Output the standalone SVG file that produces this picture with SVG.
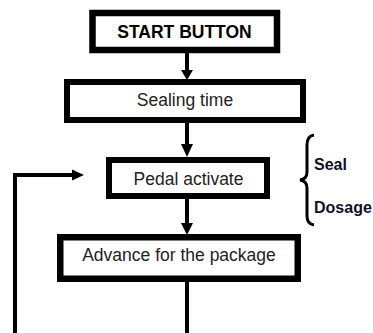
<svg xmlns="http://www.w3.org/2000/svg" width="373" height="333" viewBox="0 0 373 333">
<style>
.box{fill:#fff;stroke:#000;stroke-width:6.5}
.t{font-family:"Liberation Sans",Arial,sans-serif;font-size:17.5px;fill:#222;text-anchor:middle}
.b{font-weight:bold;fill:#000}
.c{stroke:#000;stroke-width:4;fill:none}
.h{fill:#000}
.lbl{font-family:"Liberation Sans",Arial,sans-serif;font-size:16px;font-weight:bold;fill:#10102a}
</style>
<rect width="373" height="333" fill="#fff"/>
<g id="connectors">
<line class="c" x1="187" y1="53" x2="187" y2="71"/>
<polygon class="h" points="181,70 193,70 187,80"/>
<line class="c" x1="187" y1="123" x2="187" y2="145"/>
<polygon class="h" points="181,144 193,144 187,157"/>
<line class="c" x1="187" y1="199" x2="187" y2="224"/>
<polygon class="h" points="181,223 193,223 187,235"/>
<line class="c" x1="187" y1="282" x2="187" y2="333"/>
<polyline class="c" points="15,333 15,175 74,175"/>
<polygon class="h" points="72,169.5 72,180.5 84,175"/>
</g>
<g id="start">
<rect class="box" x="92.5" y="13" width="184.5" height="37"/>
<text class="t b" x="184.5" y="37.5" font-size="17">START BUTTON</text>
</g>
<g id="sealing">
<rect class="box" x="67" y="82" width="236" height="38" style="stroke-width:6"/>
<text class="t" x="185" y="106">Sealing time</text>
</g>
<g id="pedal">
<rect class="box" x="109" y="160" width="158" height="36" style="stroke-width:6"/>
<text class="t" x="188.5" y="185">Pedal activate</text>
</g>
<g id="advance">
<rect class="box" x="60.25" y="237.25" width="237.5" height="41.5"/>
<text class="t" x="179" y="261">Advance for the package</text>
</g>
<g id="brace">
<path d="M314,135 Q307,136 307,145 L307,172 Q307,179 300,180 Q307,181 307,188 L307,216 Q307,224 314,225" fill="none" stroke="#000" stroke-width="3"/>
<text class="lbl" x="314" y="170">Seal</text>
<text class="lbl" x="314" y="213">Dosage</text>
</g>
</svg>
